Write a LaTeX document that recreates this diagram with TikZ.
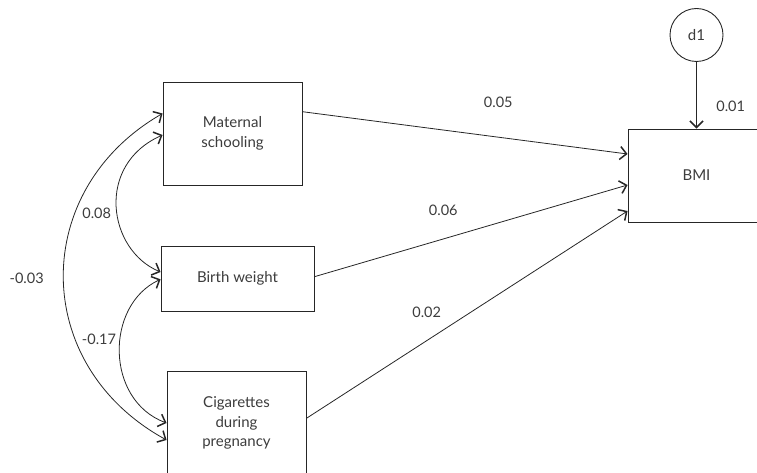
\documentclass[tikz,border=0pt]{standalone}
\usepackage{fontspec}
\setmainfont{Lato}
\usetikzlibrary{arrows.meta,calc}
\definecolor{ink}{HTML}{262626}
\definecolor{txt}{HTML}{3c3c3c}
\tikzset{
  varbox/.style={draw=ink, line width=0.9pt, inner sep=0pt, align=center,
    text=txt, font=\fontsize{15}{19.5}\selectfont},
  errnode/.style={draw=ink, line width=0.9pt, circle, minimum size=53pt, inner sep=0pt,
    text=txt, font=\fontsize{15}{18}\selectfont},
  coef/.style={text=txt, font=\fontsize{14.5}{17}\selectfont, inner sep=0pt},
  path/.style={draw=ink, line width=0.8pt,
    -{Straight Barb[length=6.5pt,width=13pt,line width=1.5pt]}},
  covar/.style={draw=ink, line width=0.8pt,
    {Straight Barb[length=6.5pt,width=13pt,line width=1.5pt]}-{Straight Barb[length=6.5pt,width=13pt,line width=1.5pt]}}
}
\begin{document}
\begin{tikzpicture}[x=1pt,y=-1pt]
\useasboundingbox (0,0) rectangle (757,473);
\clip (0,0) rectangle (757,473);

% observed variables
\node[varbox, minimum width=139pt, minimum height=103pt] (mat) at (232.5,133.5) {Maternal\\schooling};
\node[varbox, minimum width=153pt, minimum height=65pt] (bw) at (237.5,278.5) {Birth weight};
\node[varbox, minimum width=139pt, minimum height=103pt] (cig) at (236.5,423) {Cigarettes\\during\\pregnancy};
\node[varbox, minimum width=137pt, minimum height=93pt] (bmi) at (696.5,175.5) {\raisebox{-6pt}{BMI}};

% disturbance term
\node[errnode] (d1) at (696.5,35) {d1};

% regression paths
\draw[path] (d1) -- (bmi);
\draw[path] ([yshift=21.8pt]mat.east) -- ([yshift=21.5pt]bmi.west);
\draw[path] ([yshift=1.8pt]bw.east) -- ([yshift=-9.5pt]bmi.west);
\draw[path] ([yshift=4.7pt]cig.east) -- ([yshift=-35.5pt]bmi.west);

% covariances
\draw[covar] ([yshift=20pt]mat.west) .. controls (30,190) and (30,365) .. ([yshift=-17pt]cig.west);
\draw[covar] ([yshift=-1.5pt]mat.west) .. controls (95,165) and (108,250) .. ([yshift=6.5pt]bw.west);
\draw[covar] ([yshift=-0.8pt]bw.west) .. controls (105,305) and (105,400) .. ([yshift=0pt]cig.west);

% coefficients
\node[coef] (c05) at (498.3,102.3) {0.05};
\node[coef] (c06) at (443.3,210) {0.06};
\node[coef] (c02) at (426.7,312.7) {0.02};
\node[coef] (c01) at (730.7,106) {0.01};
\node[coef] (c08) at (96.7,213.3) {0.08};
\node[coef] (c03) at (26.7,278.3) {-0.03};
\node[coef] (c17) at (99,339) {-0.17};
\end{tikzpicture}
\end{document}
